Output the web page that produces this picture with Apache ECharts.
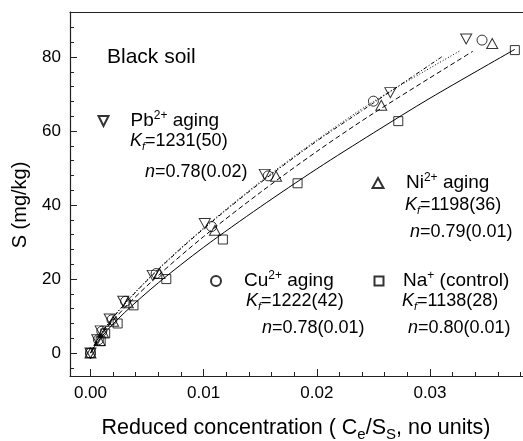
<!DOCTYPE html>
<html>
<head>
<meta charset="utf-8">
<script src="https://cdn.jsdelivr.net/npm/echarts@6/dist/echarts.min.js"></script>
<style>
  html, body { margin: 0; padding: 0; background: #fff; }
  #chart { width: 523px; height: 441px; }
</style>
</head>
<body>
<div id="chart"></div>
<script>
// measured points: reduced concentration (Ce/Ss) vs S (mg/kg)
const pbX = [0.0000, 0.0006, 0.0009, 0.0017, 0.0029, 0.0055, 0.0101, 0.0154, 0.0265, 0.0332];
const pbY = [0.0, 3.6, 6.0, 9.2, 14.0, 21.0, 35.0, 48.3, 70.4, 84.9];
const cuX = [0.0000, 0.0007, 0.0010, 0.0019, 0.0031, 0.0058, 0.0107, 0.0157, 0.0250, 0.0346];
const cuY = [0.0, 3.6, 5.9, 9.0, 14.0, 21.5, 34.2, 47.9, 68.1, 84.6];
const niX = [0.0000, 0.0008, 0.0011, 0.0020, 0.0033, 0.0061, 0.0110, 0.0164, 0.0257, 0.0355];
const niY = [0.0, 3.4, 5.6, 8.6, 13.6, 21.5, 33.2, 47.8, 67.0, 83.7];
const naX = [0.0000, 0.0009, 0.0013, 0.0024, 0.0038, 0.0067, 0.0117, 0.0183, 0.0272, 0.0375];
const naY = [0.0, 3.2, 5.3, 8.0, 12.9, 20.0, 30.7, 45.9, 62.7, 81.9];

// fitted curves
const pbFitX = [0, 0.001, 0.003, 0.006, 0.01, 0.015, 0.02, 0.025, 0.0327];
const pbFitY = [0, 5.6, 13.3, 22.8, 33.8, 46.3, 57.6, 68.0, 81.8];
const cuFitX = [0, 0.001, 0.003, 0.006, 0.01, 0.015, 0.02, 0.025, 0.0311];
const cuFitY = [0, 5.5, 13.2, 22.6, 33.6, 46.0, 57.3, 67.6, 80.2];
const niFitX = [0, 0.001, 0.003, 0.006, 0.01, 0.015, 0.02, 0.025, 0.0338];
const niFitY = [0, 5.1, 12.2, 21.0, 31.5, 43.4, 54.5, 64.8, 81.6];
const naFitX = [0, 0.001, 0.003, 0.006, 0.01, 0.015, 0.02, 0.025, 0.03, 0.0375];
const naFitY = [0, 4.5, 10.9, 19.0, 28.6, 39.5, 49.8, 59.5, 68.9, 82.1];

// ticks
const xMajorTicks = [0, 0.01, 0.02, 0.03];
const xMinorTicks = [0.002, 0.004, 0.006, 0.008, 0.012, 0.014, 0.016, 0.018,
  0.022, 0.024, 0.026, 0.028, 0.032, 0.034, 0.036, 0.038];
const yMajorTicks = [0, 20, 40, 60, 80];
const yMinorTicks = [-4, 4, 8, 12, 16, 24, 28, 32, 36, 44, 48, 52, 56, 64, 68, 72, 76, 84, 88];

// fit parameters shown in the annotations
const labels = {
  Pb: { ion: 'Pb', charge: '2+', tail: ' aging', kf: '1231(50)', n: '0.78(0.02)' },
  Ni: { ion: 'Ni', charge: '2+', tail: ' aging', kf: '1198(36)', n: '0.79(0.01)' },
  Cu: { ion: 'Cu', charge: '2+', tail: ' aging', kf: '1222(42)', n: '0.78(0.01)' },
  Na: { ion: 'Na', charge: '+', tail: ' (control)', kf: '1138(28)', n: '0.80(0.01)' }
};

const FONT = '"Liberation Sans", Arial, sans-serif';
const DOWN_TRIANGLE = 'path://M0,0L2,0L1,2Z';
const zip = (xs, ys) => xs.map((x, i) => [x, ys[i]]);

const richBase = {
  g: { width: 16 },
  t: { fontSize: 18, fontFamily: FONT, color: '#000', lineHeight: 22 },
  h: { fontSize: 19, fontFamily: FONT, color: '#000', lineHeight: 22 },
  i: { fontSize: 18, fontFamily: FONT, color: '#000', fontStyle: 'italic', lineHeight: 22 },
  sup: { fontSize: 12, fontFamily: FONT, color: '#000', verticalAlign: 'top', lineHeight: 22 },
  sub: { fontSize: 11, fontFamily: FONT, color: '#000', fontStyle: 'italic', verticalAlign: 'bottom', lineHeight: 22 }
};

function scatter(name, xs, ys, symbol, size, rotate) {
  return {
    name: name,
    type: 'scatter',
    data: zip(xs, ys),
    symbol: symbol,
    symbolSize: size,
    symbolRotate: rotate || 0,
    itemStyle: { color: 'rgba(0,0,0,0)', borderColor: '#000', borderWidth: 1 },
    z: 5
  };
}

function fit(name, xs, ys, dash) {
  return {
    name: name,
    type: 'line',
    data: zip(xs, ys),
    showSymbol: false,
    smooth: 0.3,
    lineStyle: { color: '#000', width: 1, type: dash },
    z: 3
  };
}

function legendBlock(name, left, top, gap, w, h, icon) {
  const l = labels[name];
  const item = { name: name };
  if (icon) item.icon = icon;
  return {
    data: [item],
    left: left,
    top: top,
    padding: 0,
    itemWidth: w,
    itemHeight: h,
    selectedMode: false,
    formatter: () => '{g|}{h|' + l.ion + '}{sup|' + l.charge + '}{h|' + l.tail + '}',
    textStyle: { rich: Object.assign({}, richBase, { g: { width: gap } }) }
  };
}

function paramText(x, y, rich) {
  return {
    type: 'text',
    x: x,
    y: y,
    style: { text: rich, rich: richBase, verticalAlign: 'middle', align: 'left' }
  };
}

const chart = echarts.init(document.getElementById('chart'));

const axisBase = {
  axisLine: { show: true, onZero: false, lineStyle: { color: '#222', width: 1.2 } },
  splitLine: { show: false }
};
const noLine = { show: false, onZero: false };

const option = {
  animation: false,
  grid: { left: 70, right: 0, top: 12, bottom: 65 },
  xAxis: [
    Object.assign({}, axisBase, {
      type: 'value', min: -0.00181, max: 0.03822,
      axisTick: { inside: true, length: 7, customValues: xMajorTicks, lineStyle: { color: '#222' } },
      axisLabel: { customValues: xMajorTicks, margin: 9, fontSize: 17, fontFamily: FONT, color: '#000',
        formatter: v => v.toFixed(2) }
    }),
    Object.assign({}, axisBase, {
      type: 'value', min: -0.00181, max: 0.03822, position: 'bottom',
      axisLine: noLine,
      axisTick: { inside: true, length: 4, customValues: xMinorTicks, lineStyle: { color: '#222' } },
      axisLabel: { show: false }
    }),
    Object.assign({}, axisBase, {
      type: 'value', min: -0.00181, max: 0.03822, position: 'top',
      axisTick: { show: false }, axisLabel: { show: false }
    })
  ],
  yAxis: [
    Object.assign({}, axisBase, {
      type: 'value', min: -6.2, max: 92.2, position: 'left',
      axisTick: { inside: true, length: 7, customValues: yMajorTicks, lineStyle: { color: '#222' } },
      axisLabel: { customValues: yMajorTicks, margin: 9, fontSize: 17, fontFamily: FONT, color: '#000' }
    }),
    Object.assign({}, axisBase, {
      type: 'value', min: -6.2, max: 92.2, position: 'left',
      axisLine: noLine,
      axisTick: { inside: true, length: 4, customValues: yMinorTicks, lineStyle: { color: '#222' } },
      axisLabel: { show: false }
    })
  ],
  legend: [
    legendBlock('Pb', 97.5, 110, 16.5, 11, 10, DOWN_TRIANGLE),
    legendBlock('Ni', 371.5, 172, 17.5, 11, 10),
    legendBlock('Cu', 210, 270, 18, 10, 10),
    legendBlock('Na', 373.5, 270, 14.5, 9, 9)
  ],
  series: [
    fit('Pb fit', pbFitX, pbFitY, [1, 2]),
    fit('Cu fit', cuFitX, cuFitY, [4, 2, 1, 2]),
    fit('Ni fit', niFitX, niFitY, [5, 3]),
    fit('Na fit', naFitX, naFitY, 'solid'),
    scatter('Pb', pbX, pbY, 'triangle', [11, 10], 180),
    scatter('Cu', cuX, cuY, 'circle', [10, 10]),
    scatter('Ni', niX, niY, 'triangle', [11, 10]),
    scatter('Na', naX, naY, 'rect', [9, 9])
  ],
  graphic: [
    { type: 'text', x: 107, y: 57,
      style: { text: 'Black soil', font: '21px ' + FONT, fill: '#000', verticalAlign: 'middle' } },
    paramText(130, 141, '{i|K}{sub|f}{t|=' + labels.Pb.kf + '}'),
    paramText(145, 172, '{i|n}{t|=' + labels.Pb.n + '}'),
    paramText(405, 205, '{i|K}{sub|f}{t|=' + labels.Ni.kf + '}'),
    paramText(410, 232, '{i|n}{t|=' + labels.Ni.n + '}'),
    paramText(246, 301, '{i|K}{sub|f}{t|=' + labels.Cu.kf + '}'),
    paramText(262, 328, '{i|n}{t|=' + labels.Cu.n + '}'),
    paramText(402, 301, '{i|K}{sub|f}{t|=' + labels.Na.kf + '}'),
    paramText(408, 328, '{i|n}{t|=' + labels.Na.n + '}'),
    { type: 'text', x: 296, y: 428,
      style: {
        text: '{t|Reduced concentration ( C}{s|e}{t|/S}{s|S}{t|, no units)}',
        align: 'center', verticalAlign: 'middle',
        rich: {
          t: { fontSize: 21.5, fontFamily: FONT, color: '#000', lineHeight: 28 },
          s: { fontSize: 15, fontFamily: FONT, color: '#000', verticalAlign: 'bottom', lineHeight: 28 }
        }
      } },
    { type: 'text', x: 20, y: 205, rotation: Math.PI / 2,
      style: { text: 'S (mg/kg)', font: '20px ' + FONT, fill: '#000', align: 'center', verticalAlign: 'middle' } }
  ]
};

chart.setOption(option);
</script>
</body>
</html>
